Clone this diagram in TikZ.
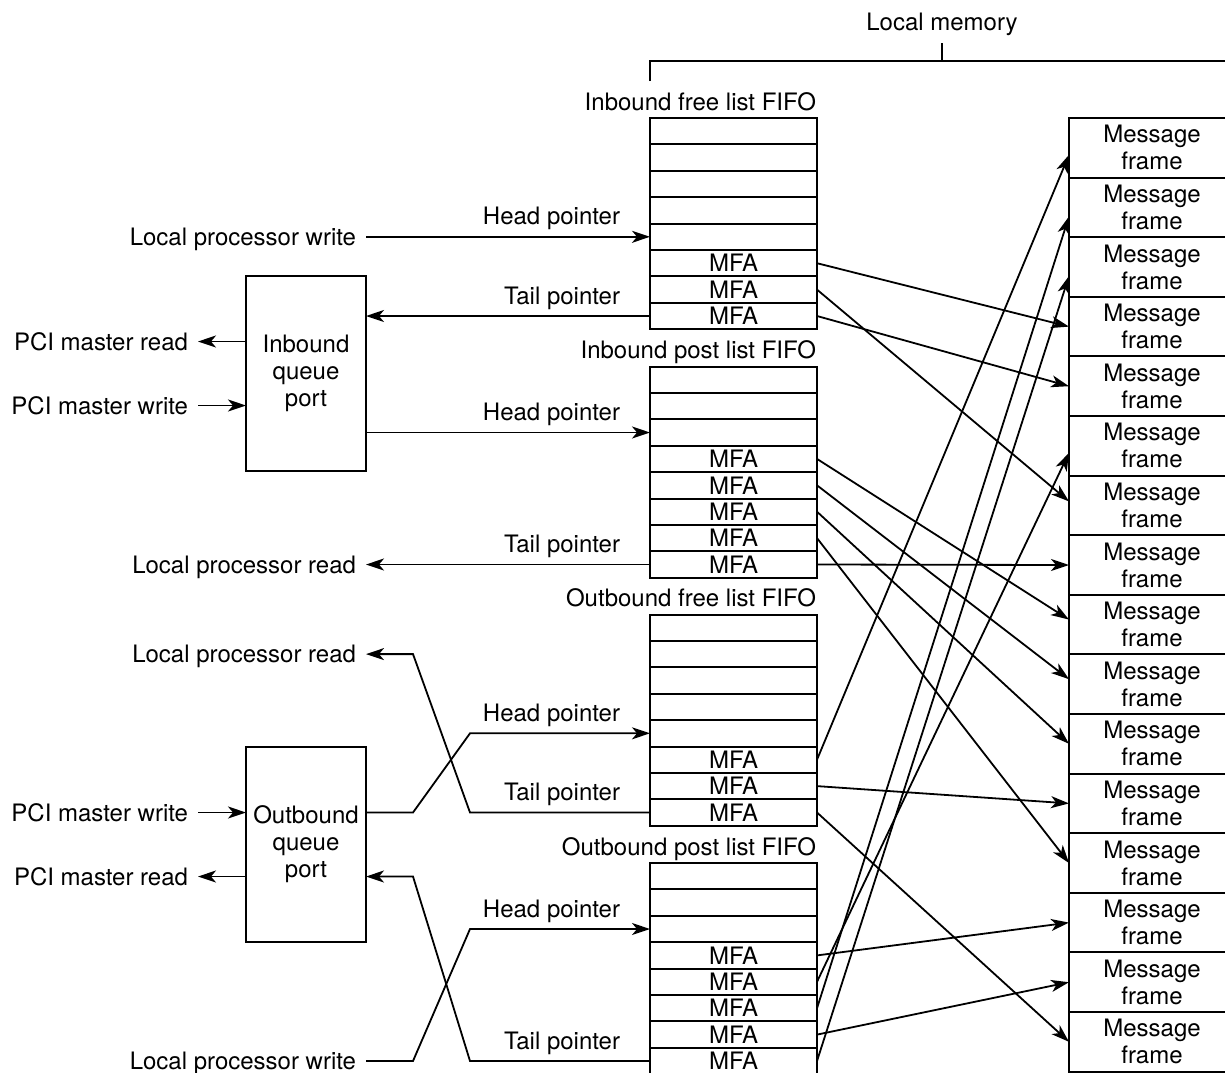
\documentclass[tikz,border=0pt]{standalone}
\usepackage{fontspec}
\setmainfont{TeX Gyre Heros}
\usetikzlibrary{arrows.meta,positioning}

\begin{document}
\begin{tikzpicture}[
  x=0.5pt, y=-0.5pt,
  font=\fontsize{12}{13.5}\selectfont,
  line width=1pt,
  cell/.style={draw, minimum width=83.5pt, minimum height=13.2pt, inner sep=0pt, outer sep=0pt},
  msg/.style={draw, align=center, minimum width=83pt, minimum height=29.8pt,
              inner sep=0pt, outer sep=0pt},
  qport/.style={draw, align=center, minimum width=60pt, minimum height=97.5pt,
                inner sep=0pt, outer sep=0pt},
  lbl/.style={inner xsep=4.5pt, inner ysep=2pt, text height=8.6pt, text depth=0pt},
  ptr/.style={inner sep=2pt, text height=8.6pt, text depth=2.5pt},
  title/.style={anchor=base east, inner sep=0pt},
  arr/.style={-{Stealth[length=9pt, width=6pt, inset=2.5pt]}, line width=0.9pt}]
\useasboundingbox (0,0) rectangle (1225,1072);

\foreach \q/\ytop/\first in {ifl/118/6, ipl/366.5/4, ofl/614.5/6, opl/863/4}
  \foreach \row in {1,...,8}
    \node[cell] (\q\row) at (733.5, {\ytop+13.2+26.4*(\row-1)}) {\ifnum\row<\first\else MFA\fi};
\foreach \fr in {1,...,16}
  \node[msg] (mf\fr) at (1152, {118+29.8*(2*\fr-1)}) {Message\\frame};

\node[title] (iflt) at ([yshift=4pt]ifl1.north east) {Inbound free list FIFO};
\node[title] (iplt) at ([yshift=4pt]ipl1.north east) {Inbound post list FIFO};
\node[title] (oflt) at ([yshift=4pt]ofl1.north east) {Outbound free list FIFO};
\node[title] (oplt) at ([yshift=4pt]opl1.north east) {Outbound post list FIFO};

\node (lm) at (942,24) {Local memory};
\coordinate (lmb) at (942,61);
\draw (lm.south) -- (lmb);
\draw (650,81) -- (650,61) -- (1232,61);

\node[qport] (inq) at (306,373.5) {Inbound\\queue\\port};
\node[qport] (outq) at (306,844.5) {Outbound\\queue\\port};

\coordinate (lblx) at (366,0);
\node[lbl, anchor=east] (lpw1) at (ifl5.west -| lblx) {Local processor write};
\node[lbl, anchor=east] (lpr1) at (ipl8.west -| lblx) {Local processor read};
\node[lbl, anchor=east] (lpr2) at (ofl2.west -| lblx) {Local processor read};
\node[lbl, anchor=east] (lpw2) at (opl8.west -| lblx) {Local processor write};
\node[lbl, anchor=east] (pmr1) at ([xshift=-24pt, yshift=16pt]inq.west) {PCI master read};
\node[lbl, anchor=east] (pmw1) at ([xshift=-24pt, yshift=-16pt]inq.west) {PCI master write};
\node[lbl, anchor=east] (pmw2) at ([xshift=-24pt, yshift=16pt]outq.west) {PCI master write};
\node[lbl, anchor=east] (pmr2) at ([xshift=-24pt, yshift=-16pt]outq.west) {PCI master read};

\node[ptr, above left=1pt and 12.5pt of ifl5.west] (hp1) {Head pointer};
\node[ptr, above left=1pt and 12.5pt of ifl8.west] (tp1) {Tail pointer};
\node[ptr, above left=1pt and 12.5pt of ipl3.west] (hp2) {Head pointer};
\node[ptr, above left=1pt and 12.5pt of ipl8.west] (tp2) {Tail pointer};
\node[ptr, above left=1pt and 12.5pt of ofl5.west] (hp3) {Head pointer};
\node[ptr, above left=1pt and 12.5pt of ofl8.west] (tp3) {Tail pointer};
\node[ptr, above left=1pt and 12.5pt of opl3.west] (hp4) {Head pointer};
\node[ptr, above left=1pt and 12.5pt of opl8.west] (tp4) {Tail pointer};

\draw[arr] (lpw1.east) -- (ifl5.west);
\draw[arr] (ifl8.west) -- (ifl8.west -| inq.east);
\draw[arr] ([yshift=16pt]inq.west) -- (pmr1.east);
\draw[arr] (pmw1.east) -- ([yshift=-16pt]inq.west);
\draw[arr] (ipl3.west -| inq.east) -- (ipl3.west);
\draw[arr] (ipl8.west) -- (lpr1.east);
\draw[arr] (ofl8.west) -- ++(-90pt,0) -- ([xshift=23.5pt]lpr2.east) -- (lpr2.east);
\draw[arr] ([yshift=16pt]outq.east) -- ++(23.5pt,0) -- ([xshift=-90pt]ofl5.west) -- (ofl5.west);
\draw[arr] (pmw2.east) -- ([yshift=16pt]outq.west);
\draw[arr] ([yshift=-16pt]outq.west) -- (pmr2.east);
\draw[arr] (lpw2.east) -- ++(23.5pt,0) -- ([xshift=-90pt]opl3.west) -- (opl3.west);
\draw[arr] (opl8.west) -- ++(-90pt,0) -- ([xshift=23.5pt, yshift=-16pt]outq.east)
  -- ([yshift=-16pt]outq.east);

\draw[arr] (ifl6.east) -- (mf4.west);
\draw[arr] (ifl7.east) -- ([yshift=2pt]mf7.west);
\draw[arr] (ifl8.east) -- (mf5.west);
\draw[arr] (ipl4.east) -- ([yshift=2.5pt]mf9.west);
\draw[arr] (ipl5.east) -- ([yshift=2.5pt]mf10.west);
\draw[arr] (ipl6.east) -- (mf11.west);
\draw[arr] (ipl7.east) -- (mf13.west);
\draw[arr] (ipl8.east) -- (mf8.west);
\draw[arr] (ofl6.east) -- ([yshift=-3.5pt]mf1.west);
\draw[arr] (ofl7.east) -- (mf12.west);
\draw[arr] (ofl8.east) -- (mf16.west);
\draw[arr] (opl4.east) -- (mf14.west);
\draw[arr] (opl5.east) -- ([yshift=-3.5pt]mf6.west);
\draw[arr] (opl6.east) -- ([yshift=-4.5pt]mf2.west);
\draw[arr] (opl7.east) -- (mf15.west);
\draw[arr] (opl8.east) -- ([yshift=-4.5pt]mf3.west);
\end{tikzpicture}
\end{document}
